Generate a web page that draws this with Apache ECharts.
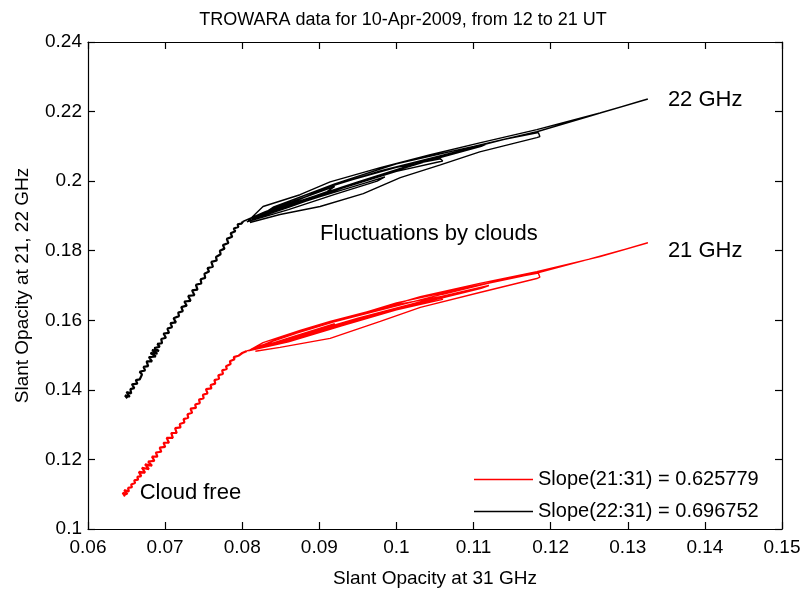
<!DOCTYPE html>
<html>
<head>
<meta charset="utf-8">
<script src="https://cdn.jsdelivr.net/npm/echarts@6/dist/echarts.min.js"></script>
<style>html,body{margin:0;padding:0;background:#fff}#c{width:806px;height:593px}</style>
</head>
<body>
<div id="c"></div>
<script>
// ---- Data ----
var titleText = 'TROWARA data for 10-Apr-2009, from 12 to 21 UT';
var xAxisName = 'Slant Opacity at 31 GHz';
var yAxisName = 'Slant Opacity at 21, 22 GHz';
var legend21 = 'Slope(21:31) = 0.625779';
var legend22 = 'Slope(22:31) = 0.696752';

// 22 GHz vs 31 GHz, cloud-free part (x = tau31, y = tau22)
var black22CloudFree = [
  [0.0651,0.1376],[0.0648,0.1384],[0.0654,0.1380],[0.0650,0.1394],[0.0656,0.1390],[0.0655,0.1402],
  [0.0660,0.1405],[0.0657,0.1416],[0.0664,0.1418],[0.0662,0.1428],[0.0667,0.1430],[0.0670,0.1444],
  [0.0667,0.1452],[0.0674,0.1456],[0.0672,0.1466],[0.0678,0.1468],[0.0676,0.1482],[0.0683,0.1482],
  [0.0679,0.1494],[0.0688,0.1496],[0.0681,0.1506],[0.0690,0.1504],[0.0683,0.1514],[0.0692,0.1512],
  [0.0686,0.1520],[0.0693,0.1524],[0.0690,0.1532],[0.0696,0.1534],[0.0695,0.1546],[0.0701,0.1550],
  [0.0698,0.1562],[0.0705,0.1564],[0.0703,0.1576],[0.0709,0.1580],[0.0707,0.1592],[0.0714,0.1594],
  [0.0711,0.1606],[0.0718,0.1612],[0.0717,0.1622],[0.0723,0.1626],[0.0721,0.1638],[0.0728,0.1642],
  [0.0725,0.1654],[0.0733,0.1656],[0.0730,0.1670],[0.0738,0.1672],[0.0735,0.1686],[0.0742,0.1688],
  [0.0740,0.1702],[0.0747,0.1706],[0.0746,0.1718],[0.0752,0.1722],[0.0751,0.1734],[0.0757,0.1740],
  [0.0755,0.1750],[0.0762,0.1754],[0.0760,0.1768],[0.0767,0.1772],[0.0766,0.1782],[0.0772,0.1790],
  [0.0771,0.1800],[0.0777,0.1806],[0.0775,0.1816],[0.0782,0.1822],[0.0780,0.1834],[0.0787,0.1840],
  [0.0785,0.1850],[0.0791,0.1856],[0.0789,0.1864],[0.0795,0.1868],[0.0794,0.1876],[0.0799,0.1878],
  [0.0801,0.1884]
];
// 22 GHz, cloudy excursions
var black22Clouds = [
  [0.0830,0.1912],[0.0870,0.1945],[0.0920,0.1985],[0.0910,0.1970],[0.0860,0.1930],[0.0815,0.1890],
  [0.0830,0.1905],[0.0900,0.1955],[0.0960,0.1995],[0.0985,0.2012],[0.0975,0.2000],[0.0920,0.1962],
  [0.0860,0.1918],[0.0806,0.1883],
  [0.0850,0.1925],[0.0920,0.1990],[0.1000,0.2040],[0.1057,0.2064],[0.1060,0.2058],
  [0.1000,0.2028],[0.0930,0.1980],[0.0860,0.1925],[0.0808,0.1886],
  [0.0827,0.1927],[0.0875,0.1961],[0.0914,0.1998],[0.0979,0.2039],[0.1044,0.2076],
  [0.1108,0.2110],[0.1182,0.2148],[0.1264,0.2196],[0.1326,0.2236],
  [0.1316,0.2230],[0.1250,0.2186],[0.1182,0.2142],[0.1100,0.2100],[0.1000,0.2050],
  [0.0920,0.1992],[0.0860,0.1942],[0.0812,0.1892],
  [0.0840,0.1918],[0.0950,0.1998],[0.1050,0.2068],[0.1120,0.2110],[0.1110,0.2100],
  [0.1040,0.2058],[0.0940,0.1990],[0.0820,0.1895],
  [0.0840,0.1925],[0.0900,0.1975],[0.0980,0.2030],[0.1060,0.2075],[0.1140,0.2120],
  [0.1184,0.2140],[0.1186,0.2128],[0.1182,0.2125],[0.1108,0.2084],[0.1057,0.2047],
  [0.1005,0.2010],[0.0957,0.1964],[0.0901,0.1927],[0.0849,0.1904],[0.0810,0.1881]
];

// 21 GHz vs 31 GHz, cloud-free part
var red21CloudFree = [
  [0.0648,0.1094],[0.0645,0.1104],[0.0651,0.1100],[0.0647,0.1112],[0.0653,0.1108],[0.0652,0.1118],
  [0.0657,0.1120],[0.0656,0.1128],[0.0661,0.1132],[0.0660,0.1140],[0.0665,0.1142],[0.0664,0.1150],
  [0.0669,0.1152],[0.0666,0.1164],[0.0674,0.1162],[0.0670,0.1176],[0.0679,0.1172],[0.0674,0.1186],
  [0.0683,0.1182],[0.0678,0.1194],[0.0686,0.1196],[0.0683,0.1208],[0.0690,0.1208],[0.0688,0.1220],
  [0.0695,0.1222],[0.0693,0.1234],[0.0700,0.1236],[0.0698,0.1248],[0.0705,0.1248],[0.0702,0.1262],
  [0.0710,0.1262],[0.0708,0.1276],[0.0715,0.1276],[0.0713,0.1290],[0.0720,0.1292],[0.0719,0.1302],
  [0.0725,0.1306],[0.0724,0.1316],[0.0730,0.1320],[0.0729,0.1330],[0.0735,0.1334],[0.0733,0.1346],
  [0.0740,0.1348],[0.0739,0.1358],[0.0745,0.1362],[0.0744,0.1372],[0.0750,0.1376],[0.0749,0.1386],
  [0.0755,0.1390],[0.0753,0.1402],[0.0760,0.1404],[0.0759,0.1414],[0.0765,0.1418],[0.0764,0.1428],
  [0.0770,0.1432],[0.0769,0.1442],[0.0775,0.1446],[0.0774,0.1456],[0.0780,0.1460],[0.0779,0.1468],
  [0.0785,0.1474],[0.0784,0.1482],[0.0790,0.1488],[0.0789,0.1494],[0.0795,0.1498],[0.0800,0.1506],
  [0.0806,0.1512]
];
// 21 GHz, cloudy excursions
var red21Clouds = [
  [0.0830,0.1528],[0.0870,0.1556],[0.0920,0.1590],[0.0910,0.1578],[0.0860,0.1544],[0.0812,0.1515],
  [0.0830,0.1526],[0.0900,0.1572],[0.0960,0.1610],[0.0985,0.1624],[0.0975,0.1614],[0.0920,0.1580],
  [0.0860,0.1542],[0.0808,0.1512],
  [0.0850,0.1550],[0.0920,0.1598],[0.1000,0.1645],[0.1057,0.1668],[0.1060,0.1660],
  [0.1000,0.1630],[0.0930,0.1585],[0.0860,0.1538],[0.0808,0.1512],
  [0.0827,0.1536],[0.0875,0.1571],[0.0914,0.1597],[0.0979,0.1634],[0.1031,0.1668],
  [0.1108,0.1706],[0.1182,0.1740],[0.1264,0.1783],[0.1326,0.1823],
  [0.1316,0.1816],[0.1250,0.1776],[0.1182,0.1736],[0.1100,0.1698],[0.1000,0.1650],
  [0.0920,0.1596],[0.0860,0.1556],[0.0812,0.1518],
  [0.0840,0.1534],[0.0950,0.1606],[0.1050,0.1664],[0.1120,0.1700],[0.1110,0.1692],
  [0.1040,0.1654],[0.0940,0.1596],[0.0820,0.1518],
  [0.0840,0.1540],[0.0900,0.1585],[0.0980,0.1630],[0.1060,0.1675],[0.1140,0.1718],
  [0.1184,0.1736],[0.1186,0.1724],[0.1182,0.1720],[0.1108,0.1680],[0.1031,0.1637],
  [0.0979,0.1597],[0.0914,0.1548],[0.0849,0.1522],[0.0817,0.1511]
];

// annotations: [text, x, y] in data units (left edge, vertical middle)
var annotations = [
  ['22 GHz', 0.1352, 0.2234],
  ['21 GHz', 0.1352, 0.1798],
  ['Fluctuations by clouds', 0.0901, 0.1849],
  ['Cloud free', 0.0667, 0.1103]
];

var xMin = 0.06, xMax = 0.15, xStep = 0.01;
var yMin = 0.10, yMax = 0.24, yStep = 0.02;

// ---- Chart ----
var FONT = '"Liberation Sans", Arial, Helvetica, sans-serif';
var chart = echarts.init(document.getElementById('c'), null, {renderer: 'canvas'});

function axisBase(extra) {
  var a = {
    type: 'value',
    axisLine: {show: true, onZero: false, lineStyle: {color: '#000', width: 1.2}},
    axisTick: {show: true, inside: true, length: 7, lineStyle: {color: '#000', width: 1.2}},
    splitLine: {show: false},
    axisLabel: {color: '#000', fontSize: 19, fontFamily: FONT}
  };
  for (var k in extra) a[k] = extra[k];
  return a;
}

var lineIcon = 'rect';

var option = {
  animation: false,
  backgroundColor: '#fff',
  title: {
    text: titleText, left: 'center', top: 6, padding: [5, 0, 5, 16],
    textStyle: {fontSize: 18, fontWeight: 'normal', color: '#000', fontFamily: FONT}
  },
  grid: {left: 88, right: 24, top: 42, bottom: 63, containLabel: false},
  xAxis: [
    axisBase({min: xMin, max: xMax, interval: xStep, position: 'bottom',
      name: xAxisName, nameLocation: 'middle', nameGap: 40,
      nameTextStyle: {fontSize: 19, color: '#000', fontFamily: FONT},
      axisLabel: {color: '#000', fontSize: 19, fontFamily: FONT, margin: 9}}),
    axisBase({min: xMin, max: xMax, interval: xStep, position: 'top',
      axisLabel: {show: false}})
  ],
  yAxis: [
    axisBase({min: yMin, max: yMax, interval: yStep, position: 'left',
      name: yAxisName, nameLocation: 'middle', nameGap: 56,
      nameTextStyle: {fontSize: 19, color: '#000', fontFamily: FONT},
      axisLabel: {color: '#000', fontSize: 19, fontFamily: FONT, margin: 6}}),
    axisBase({min: yMin, max: yMax, interval: yStep, position: 'right',
      axisLabel: {show: false}})
  ],
  legend: {
    orient: 'vertical', left: 469, top: 464,
    itemWidth: 59, itemHeight: 1.5, itemGap: 11,
    data: [{name: legend21, icon: lineIcon}, {name: legend22, icon: lineIcon}],
    textStyle: {fontSize: 20, lineHeight: 21, color: '#000', fontFamily: FONT},
    backgroundColor: 'transparent'
  },
  series: [
    {
      name: legend21, type: 'line', symbol: 'none',
      data: red21CloudFree,
      lineStyle: {color: '#ff0000', width: 2.2}, itemStyle: {color: '#ff0000'}, z: 3
    },
    {
      name: legend21, type: 'line', symbol: 'none',
      data: red21CloudFree.slice(-1).concat(red21Clouds),
      lineStyle: {color: '#ff0000', width: 1.4}, itemStyle: {color: '#ff0000'}, z: 3
    },
    {
      name: legend22, type: 'line', symbol: 'none',
      data: black22CloudFree,
      lineStyle: {color: '#000000', width: 2.2}, itemStyle: {color: '#000000'}, z: 3
    },
    {
      name: legend22, type: 'line', symbol: 'none',
      data: black22CloudFree.slice(-1).concat(black22Clouds),
      lineStyle: {color: '#000000', width: 1.4}, itemStyle: {color: '#000000'}, z: 3
    }
  ]
};
chart.setOption(option);

var graphics = annotations.map(function (a) {
  var p = chart.convertToPixel({xAxisIndex: 0, yAxisIndex: 0}, [a[1], a[2]]);
  return {
    type: 'text', x: p[0], y: p[1],
    style: {text: a[0], fill: '#000', fontSize: 22, fontFamily: FONT,
      textAlign: 'left', textVerticalAlign: 'middle'}
  };
});
chart.setOption({graphic: graphics});
</script>
</body>
</html>
